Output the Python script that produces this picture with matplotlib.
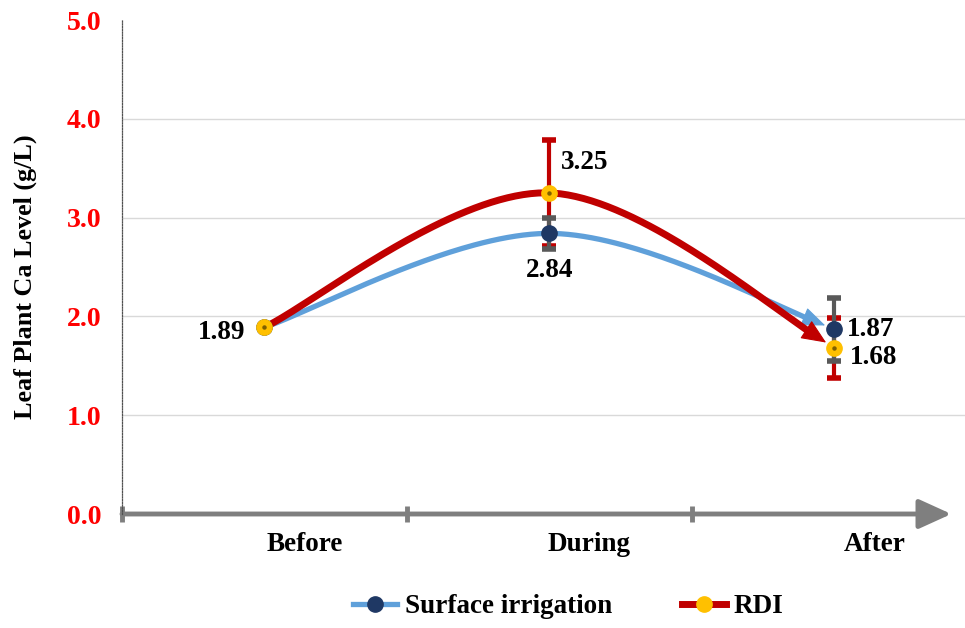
import numpy as np
import matplotlib
matplotlib.use("Agg")
import matplotlib.pyplot as plt
from matplotlib.lines import Line2D
from matplotlib.transforms import ScaledTranslation

# ---------------- data ----------------
categories = ["Before", "During", "After"]
surface_vals = [1.89, 2.84, 1.87]
surface_err = [0.0, 0.16, 0.32]
rdi_vals = [1.89, 3.25, 1.68]
rdi_err = [0.0, 0.54, 0.30]
surface_labels = ["", "2.84", "1.87"]
rdi_labels = ["1.89", "3.25", "1.68"]
y_ticks = [0.0, 1.0, 2.0, 3.0, 4.0, 5.0]
series_names = ["Surface irrigation", "RDI"]
y_title = "Leaf Plant Ca Level (g/L)"

# ---------------- style ----------------
plt.rcParams['font.family'] = ['Liberation Serif', 'DejaVu Serif']
plt.rcParams['font.weight'] = 'bold'
FS = 19.5
BLUE = "#5FA0DA"
NAVY = "#1F3864"
RED = "#C00000"
GOLD = "#FFC000"
GRAY = "#7F7F7F"
EGRAY = "#595959"

fig = plt.figure(figsize=(9.65, 6.28), dpi=100)
ax = fig.add_axes([122/965, (628-514)/628, (965-122)/965, (514-20)/628])
ax.set_xlim(-0.5, 2.458)
ax.set_ylim(0, 5)

x = np.arange(len(categories))


def smooth(xs, ys, n=80):
    """Excel-like smoothed line (Catmull-Rom Bezier) through the points."""
    P = np.column_stack([xs, ys]).astype(float)
    ext = np.vstack([P[0], P, P[-1]])
    out = []
    for i in range(len(P) - 1):
        p0, p1, p2, p3 = ext[i], ext[i+1], ext[i+2], ext[i+3]
        c1 = p1 + (p2 - p0) / 6.0
        c2 = p2 - (p3 - p1) / 6.0
        t = np.linspace(0, 1, n)[:, None]
        seg = ((1-t)**3)*p1 + 3*((1-t)**2)*t*c1 + 3*(1-t)*(t**2)*c2 + (t**3)*p2
        out.append(seg if i == 0 else seg[1:])
    return np.vstack(out)


def draw_series(vals, color, lw, z, tip_gap_px=11, head_len_px=20, head_w_px=17):
    c = smooth(x, vals)
    disp = ax.transData.transform(c)
    d = np.sqrt(((disp - disp[-1])**2).sum(axis=1))
    # line stops under the arrow head
    k_line = np.where(d >= tip_gap_px + head_len_px * 0.6)[0][-1]
    k_tail = np.where(d >= tip_gap_px + head_len_px + 4)[0][-1]
    ax.plot(c[:k_line+1, 0], c[:k_line+1, 1], color=color, lw=lw,
            solid_capstyle='butt', zorder=z)
    ms = 14
    ax.annotate("", xy=tuple(c[-1]), xytext=tuple(c[k_tail]),
                arrowprops=dict(arrowstyle=f"-|>,head_length={head_len_px*0.72/ms:.3f},"
                                           f"head_width={head_w_px*0.72/2/ms:.3f}",
                                color=color, lw=0.8, shrinkA=0,
                                shrinkB=tip_gap_px * 0.72, mutation_scale=ms),
                zorder=z)


# grid lines
for yv in y_ticks[1:-1]:
    ax.axhline(yv, color="#D9D9D9", lw=1.0, zorder=0)

# error bars
ax.errorbar(x, surface_vals, yerr=surface_err, fmt='none', ecolor=EGRAY,
            elinewidth=3, capsize=5, capthick=4, zorder=3)
ax.errorbar(x, rdi_vals, yerr=rdi_err, fmt='none', ecolor=RED,
            elinewidth=3, capsize=5, capthick=4, zorder=2)

# lines
draw_series(surface_vals, BLUE, 3.8, 4, tip_gap_px=10, head_len_px=21, head_w_px=17)
draw_series(rdi_vals, RED, 5.0, 5, tip_gap_px=10, head_len_px=22, head_w_px=19)

# markers
ax.plot(x, surface_vals, 'o', ms=11, color=NAVY, mec=NAVY, zorder=6)
ax.plot(x, rdi_vals, 'o', ms=11, color=GOLD, mec=GOLD, zorder=7)
ax.plot(x, rdi_vals, 'o', ms=2.2, color="#7F6000", zorder=8)

# data labels
offsets_rdi = [(-14, -4, 'right'), (8, 22, 'left'), (11, -7, 'left')]
offsets_sur = [(0, 0, 'center'), (0, -27, 'center'), (9, 0, 'left')]
for xi, v, lab, (dx, dy, ha) in zip(x, rdi_vals, rdi_labels, offsets_rdi):
    if lab:
        ax.annotate(lab, (xi, v), xytext=(dx, dy), textcoords='offset points',
                    ha=ha, va='center', fontsize=FS, fontweight='bold', zorder=9)
for xi, v, lab, (dx, dy, ha) in zip(x, surface_vals, surface_labels, offsets_sur):
    if lab:
        ax.annotate(lab, (xi, v), xytext=(dx, dy), textcoords='offset points',
                    ha=ha, va='center', fontsize=FS, fontweight='bold', zorder=9)

# axes
ax.set_yticks(y_ticks)
ax.set_yticklabels([f"{t:.1f}" for t in y_ticks], color="#FF0000",
                   fontsize=20, fontweight='bold')
ax.tick_params(axis='y', length=0, pad=15)
ax.set_xticks(x)
ax.set_xticklabels(categories, fontsize=FS, fontweight='bold')
ax.tick_params(axis='x', which='major', length=0, pad=13)
for lbl in ax.get_xticklabels():
    lbl.set_transform(lbl.get_transform() + ScaledTranslation(40/100, 0, fig.dpi_scale_trans))
ax.set_xticks([-0.5, 0.5, 1.5], minor=True)
ax.tick_params(axis='x', which='minor', direction='inout', length=11, width=3.5, color=GRAY)

for s in ['top', 'right', 'bottom']:
    ax.spines[s].set_visible(False)
ax.spines['left'].set_linestyle((0, (1, 1.2)))
ax.spines['left'].set_color("#505050")
ax.spines['left'].set_linewidth(0.9)

# x axis arrow
ax.annotate("", xy=(2.41, 0), xytext=(-0.5, 0),
            arrowprops=dict(arrowstyle="-|>,head_length=1.1,head_width=0.5",
                            color=GRAY, lw=3.5, shrinkA=0, shrinkB=0,
                            mutation_scale=18),
            annotation_clip=False, zorder=1)

fig.text(25/965, (628-277)/628, y_title, rotation=90, ha='center', va='center',
         fontsize=18.8, fontweight='bold')

# legend
handles = [
    Line2D([], [], color=BLUE, lw=3.8, marker='o', ms=11, mfc=NAVY, mec=NAVY),
    Line2D([], [], color=RED, lw=5.0, marker='o', ms=11, mfc=GOLD, mec=GOLD),
]
fig.legend(handles, series_names, loc='center', bbox_to_anchor=(0.589, 0.034),
           ncol=2, frameon=False, handlelength=1.6,
           columnspacing=2.6, handletextpad=0.3,
           prop={'weight': 'bold', 'size': FS})

fig.savefig("out.png", dpi=100)
